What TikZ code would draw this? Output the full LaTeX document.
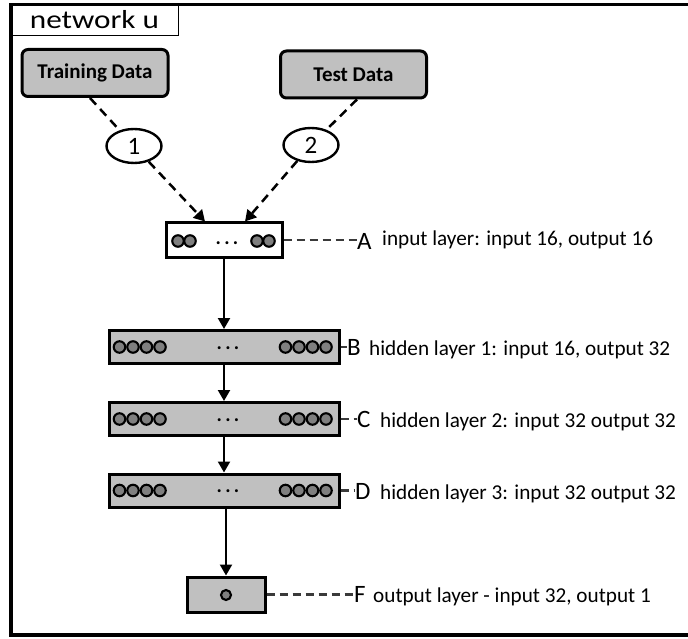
\documentclass[tikz,border=0pt]{standalone}
\usepackage{fontspec}
\setmainfont{Carlito}
\usetikzlibrary{arrows.meta,shapes.geometric,calc}
\definecolor{boxgray}{HTML}{C0C0C0}
\definecolor{dotgray}{HTML}{7F7F7F}
\definecolor{dashgray}{HTML}{3A3A3A}
\begin{document}
\begin{tikzpicture}[x=1pt,y=-1pt,
  databox/.style={draw, line width=3pt, rounded corners=6pt, fill=boxgray, minimum width=146pt, minimum height=47pt, font=\fontsize{21}{24}\selectfont\bfseries, inner sep=0pt},
  numell/.style={draw, ellipse, line width=2.4pt, fill=white, minimum width=55pt, minimum height=34pt, inner sep=0pt, font=\fontsize{25}{28}\selectfont},
  layerbox/.style={draw, line width=3pt, fill=boxgray, minimum height=33pt, inner sep=0pt},
  neuron/.style={circle, draw, line width=2.1pt, fill=dotgray, minimum size=11.5pt, inner sep=0pt},
  dots/.style={anchor=base, inner sep=0pt, font=\fontsize{20}{20}\selectfont\bfseries},
  flow/.style={-{Triangle[length=11pt,width=12pt]}, line width=2.2pt},
  feedline/.style={line width=2.5pt, dash pattern=on 9pt off 6pt},
  feed/.style={feedline, -{Triangle[length=11pt,width=12pt]}},
  tag/.style={draw=dashgray, line width=2.3pt, dash pattern=on 8pt off 5pt},
  letter/.style={anchor=base west, inner sep=0pt, font=\fontsize{25}{28}\selectfont},
  desc/.style={anchor=base west, inner sep=0pt, font=\fontsize{21.2}{24}\selectfont},
]
\useasboundingbox (0,0) rectangle (688,639);
\fill[white] (0,0) rectangle (688,639);
% frame
\draw[line width=3.5pt] (688,4.5) -- (11,4.5) -- (11,635) -- (688,635);
\node[draw, line width=0.8pt, minimum width=167pt, minimum height=31pt, inner sep=0pt] (title) at (94.5,19.5) {\fontsize{26}{28}\selectfont\scalebox{1.2}[1]{network u}};
% data
\node[databox] (train) at (95,73) {Training Data};
\node[databox] (test) at (353.5,74.5) {Test Data};
\node[numell] (e1) at (134,146) {1};
\node[numell] (e2) at (311,145) {2};
% layers
\node[draw, line width=3pt, fill=white, minimum width=116pt, minimum height=34pt, inner sep=0pt] (A) at (224,240) {};
\node[layerbox, minimum width=230pt] (B) at (224,347) {};
\node[layerbox, minimum width=230pt] (C) at (224,419) {};
\node[layerbox, minimum width=230pt] (D) at (224,490.5) {};
\node[layerbox, minimum width=78pt, minimum height=35pt] (F) at (226,594.5) {};
% neurons A
\foreach \x [count=\i] in {178,190,257,269} \node[neuron] (a\i) at (\x,241) {};
\node[dots] (adots) at (227,244) {.\,.\,.};
% neurons B, C, D
\foreach \L/\y in {B/347,C/419,D/490.5} {
  \foreach \x [count=\i] in {119.5,133,146.5,160,285.5,299,312.5,326}
    \node[neuron] (\L n\i) at (\x,\y) {};
  \node[dots] (\L dots) at (228,\y+2) {.\,.\,.};
}
\node[neuron, minimum size=10pt] (fn) at (226,595) {};
% feeds
\draw[feedline] ($(train.south)+(-5,0)$) -- (e1);
\draw[feed] (e1) -- ($(A.north)+(-19,0)$);
\draw[feedline] ($(test.south)+(3.5,0)$) -- (e2);
\draw[feed] (e2) -- ($(A.north)+(21,0)$);
% flows
\draw[flow] (A.south) -- (B.north);
\draw[flow] (B.south) -- (C.north);
\draw[flow] (C.south) -- (D.north);
\draw[flow] (D.south -| fn) -- (F.north);
% labels
\node[letter] (Al) at (357,249) {A};
\node[desc] (Ad) at (382,246) {input layer: input 16, output 16};
\node[letter] (Bl) at (347,355) {B};
\node[desc] (Bd) at (369,355) {hidden layer 1: input 16, output 32};
\node[letter] (Cl) at (357,427) {C};
\node[desc] (Cd) at (380,427) {hidden layer 2: input 32 output 32};
\node[letter] (Dl) at (355,499) {D};
\node[desc] (Dd) at (380,499) {hidden layer 3: input 32 output 32};
\node[letter] (Fl) at (354,602) {F};
\node[desc] (Fd) at (373,602) {output layer - input 32, output 1};
% tags
\draw[tag] (A.east) -- (A.east -| Al.west);
\draw[tag] (B.east) -- (B.east -| Bl.west);
\draw[tag] (C.east) -- (C.east -| Cl.west);
\draw[tag] (D.east) -- (D.east -| Dl.west);
\draw[tag] (F.east) -- (F.east -| Fl.west);
\end{tikzpicture}
\end{document}
